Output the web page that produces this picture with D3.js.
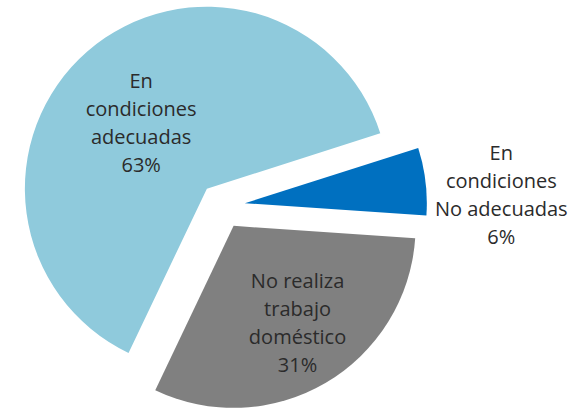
<!DOCTYPE html>
<html>
<head>
<meta charset="utf-8">
<script src="https://cdn.jsdelivr.net/npm/d3@7"></script>
<style>
  html, body { margin: 0; padding: 0; background: #fff; }
  .label { font-family: "Open Sans", sans-serif; font-size: 20px; fill: #2b2b2b; }
</style>
</head>
<body>
<script>
// data
var categories = ["En condiciones adecuadas", "En condiciones No adecuadas", "No realiza trabajo doméstico"];
var values = [63, 6, 31];
var labelLines = [
  ["En", "condiciones", "adecuadas", "63%"],
  ["En", "condiciones", "No adecuadas", "6%"],
  ["No realiza", "trabajo", "doméstico", "31%"]
];
var colors = ["#8FCADC", "#0070C0", "#808080"];

var width = 572, height = 408;
var radius = 182, explode = 23;
var cx = 222, cy = 206;
var deg = Math.PI / 180;
var start = 205.5 * deg;

// label placement (radius factor, angle nudge in degrees)
var labelR = [0.51, 1.41, 0.64];
var labelNudge = [-4, 5, -3];

var svg = d3.select("body").append("svg")
    .attr("width", width)
    .attr("height", height)
  .append("g")
    .attr("transform", "translate(" + cx + "," + cy + ")");

var pie = d3.pie()
    .sort(null)
    .startAngle(start)
    .endAngle(start + 2 * Math.PI)
    .value(function(d) { return d; });

var arc = d3.arc().innerRadius(0).outerRadius(radius);

var arcs = pie(values);

function mid(d) { return (d.startAngle + d.endAngle) / 2; }

var slice = svg.selectAll(".slice")
    .data(arcs)
  .enter().append("g")
    .attr("class", "slice")
    .attr("transform", function(d) {
      var a = mid(d);
      return "translate(" + (Math.sin(a) * explode) + "," + (-Math.cos(a) * explode) + ")";
    });

slice.append("path")
    .attr("d", arc)
    .attr("fill", function(d, i) { return colors[i]; });

var lineH = 28;

slice.append("text")
    .attr("class", "label")
    .attr("text-anchor", "middle")
    .each(function(d, i) {
      var a = mid(d) + labelNudge[i] * deg;
      var r = radius * labelR[i];
      var x = Math.sin(a) * r, y = -Math.cos(a) * r;
      var lines = labelLines[i];
      var y0 = y - (lines.length - 1) * lineH / 2;
      d3.select(this).selectAll("tspan")
          .data(lines)
        .enter().append("tspan")
          .attr("x", x)
          .attr("y", function(t, j) { return y0 + j * lineH; })
          .attr("dy", "0.35em")
          .text(function(t) { return t; });
    });
</script>
</body>
</html>
